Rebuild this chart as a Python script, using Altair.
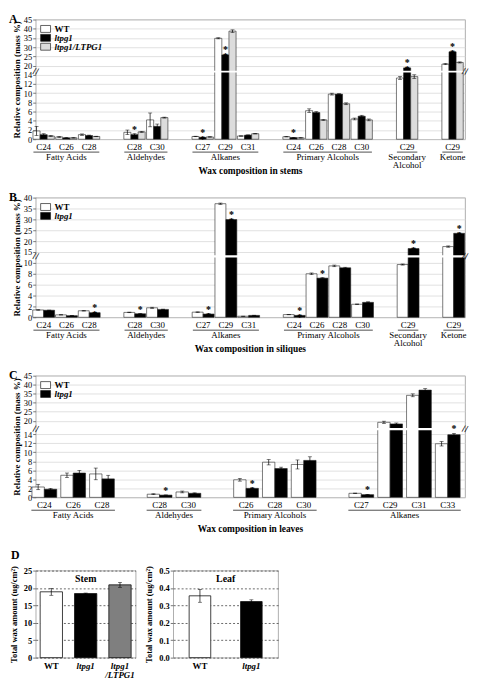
import altair as alt
import pandas as pd

FONT = "Liberation Serif"

# ---------------- data ----------------
SERIES3 = ["WT", "ltpg1", "ltpg1/LTPG1"]
SERIES2 = ["WT", "ltpg1"]
FILL_ABC = ["#ffffff", "#000000", "#dcdcdc"]
FILL_D = ["#ffffff", "#000000", "#7f7f7f"]

# Panel A - stems
A_chain = ["C24", "C26", "C28", "C28", "C30", "C27", "C29", "C31", "C24", "C26", "C28", "C30", "C29", "C29"]
A_class = ["Fatty Acids"] * 3 + ["Aldehydes"] * 2 + ["Alkanes"] * 3 + ["Primary  Alcohols"] * 4 + ["Secondary\nAlcohol", "Ketone"]
A_wt = [1.8, 0.5, 1.0, 1.5, 4.2, 0.6, 34.8, 0.7, 0.55, 6.2, 9.8, 4.4, 13.3, 20.8]
A_wt_err = [1.0, 0.1, 0.15, 0.5, 1.5, 0.05, 0.3, 0.05, 0.05, 0.4, 0.2, 0.2, 0.3, 0.3]
A_lt = [1.0, 0.3, 0.8, 1.0, 2.8, 0.4, 25.8, 0.9, 0.35, 5.8, 9.8, 5.0, 18.5, 27.5]
A_lt_err = [0.2, 0.05, 0.1, 0.2, 0.5, 0.05, 0.3, 0.05, 0.05, 0.2, 0.1, 0.2, 0.3, 0.4]
A_co = [0.7, 0.3, 0.6, 1.6, 4.7, 0.5, 38.7, 1.2, 0.3, 4.2, 7.7, 4.2, 13.6, 21.7]
A_co_err = [0.1, 0.05, 0.05, 0.1, 0.1, 0.05, 0.7, 0.05, 0.05, 0.1, 0.2, 0.2, 0.4, 0.3]
A_sig = ["", "", "", "*", "", "**", "**", "", "*", "", "", "", "**", "**"]
A_ylo = [0, 2, 4, 6, 8, 10, 12, 14]
A_yhi = [20, 25, 30, 35, 40, 45]

# Panel B - siliques
B_chain = A_chain
B_class = A_class
B_wt = [1.35, 0.45, 1.2, 0.9, 1.75, 0.95, 37.2, 0.2, 0.5, 8.0, 9.45, 2.4, 9.7, 17.5]
B_wt_err = [0.05, 0.03, 0.05, 0.05, 0.1, 0.05, 0.3, 0.02, 0.03, 0.15, 0.15, 0.05, 0.1, 0.3]
B_lt = [1.3, 0.3, 0.85, 0.65, 1.45, 0.6, 29.9, 0.35, 0.35, 7.2, 9.1, 2.75, 16.6, 23.6]
B_lt_err = [0.03, 0.02, 0.05, 0.05, 0.05, 0.05, 0.2, 0.03, 0.05, 0.1, 0.1, 0.1, 0.2, 0.2]
B_sig = ["", "", "**", "*", "", "**", "**", "", "**", "*", "", "", "**", "**"]
B_ylo = [0, 2, 4, 6, 8, 10]
B_yhi = [15, 20, 25, 30, 35, 40]

# Panel C - leaves
C_chain = ["C24", "C26", "C28", "C28", "C30", "C26", "C28", "C30", "C27", "C29", "C31", "C33"]
C_class = ["Fatty Acids"] * 3 + ["Aldehydes"] * 2 + ["Primary  Alcohols"] * 3 + ["Alkanes"] * 4
C_wt = [2.3, 4.9, 5.2, 0.7, 1.2, 3.9, 7.8, 7.3, 0.9, 19.3, 34.1, 11.9]
C_wt_err = [0.6, 0.5, 1.3, 0.1, 0.2, 0.3, 0.6, 1.0, 0.05, 0.5, 0.8, 0.5]
C_lt = [1.8, 5.4, 4.1, 0.5, 0.9, 2.0, 6.4, 8.2, 0.6, 18.6, 37.0, 13.9]
C_lt_err = [0.2, 0.6, 0.8, 0.05, 0.1, 0.1, 0.3, 0.8, 0.05, 0.4, 0.8, 0.5]
C_sig = ["", "", "", "*", "", "**", "", "", "*", "", "", "*"]
C_ylo = A_ylo
C_yhi = A_yhi

# Panel D - total wax
D_stem_geno = SERIES3
D_stem = [18.9, 18.4, 20.9]
D_stem_err = [1.0, 0.15, 0.7]
D_stem_ticks = [0, 5, 10, 15, 20, 25]
D_leaf_geno = SERIES2
D_leaf = [0.355, 0.322]
D_leaf_err = [0.037, 0.01]
D_leaf_ticks = [0.0, 0.1, 0.2, 0.3, 0.4, 0.5]

YTITLE = "Relative composition (mass %)"


# ---------------- helpers ----------------
def slots_for(classes):
    out, s, prev = [], 0, None
    for c in classes:
        if prev is not None:
            s += 1 if c == prev else 2
        out.append(s)
        prev = c
    return out


def make_pos(ylo, yhi, g):
    lm, ls, um = ylo[-1], ylo[1] - ylo[0], yhi[0]
    b = lm / ls

    def py(v):
        if v <= lm:
            return v / ls
        if v < um:
            return b + (v - lm) / (um - lm) * g
        return b + g + (v - um) / 5

    def ex(f):
        return (f"(({f}) <= {lm} ? ({f}) / {ls} : (({f}) < {um} ? {b} + (({f}) - {lm}) / {um - lm} * {g} "
                f": {b + g} + (({f}) - {um}) / 5))")
    return py, ex


def broken_panel(letter, chains, classes, series, fills, vals, errs, sig, ylo, yhi, g,
                 band, brk, W, H, xdom, pad, title):
    py, ex = make_pos(ylo, yhi, g)
    sl = slots_for(classes)
    n = len(series)
    bw = (1 - 2 * pad) / n
    rows = []
    for si, (s, vv, ee) in enumerate(zip(series, vals, errs)):
        for j in range(len(chains)):
            sg = sig[j] if s == "ltpg1" else ""
            rows.append(dict(slot=sl[j], chain=chains[j], cls=classes[j], series=s, sidx=si,
                             v=vv[j], e=ee[j], sig=sg, star="*\n*" if sg == "**" else sg))
    df = pd.DataFrame(rows)

    tick_vals = [py(t) for t in ylo + yhi]
    tick_lbls = [str(t) for t in ylo + yhi]
    lookup = "{" + ",".join(f"'{p:g}':'{l}'" for p, l in zip(tick_vals, tick_lbls)) + "}"
    top = py(yhi[-1])

    xs = alt.Scale(domain=xdom, nice=False, zero=False)
    ys = alt.Scale(domain=[0, top], nice=False, zero=False)
    yax = alt.Axis(values=tick_vals, labelExpr=f"{lookup}[toString(datum.value)]", title=YTITLE,
                   grid=True, gridColor="#d4d4d4", gridWidth=0.7, domain=False, tickSize=3,
                   tickColor="#777", labelFontSize=8.5, labelPadding=1, titleFontSize=9,
                   titleFontWeight="bold", titlePadding=2)

    def X(f):
        return alt.X(f, type="quantitative", scale=xs, axis=None)

    def Y(f):
        return alt.Y(f, type="quantitative", scale=ys, axis=yax)

    base = alt.Chart(df).transform_calculate(
        p=ex("datum.v"),
        ptop=ex("datum.v + datum.e"),
        pbot=ex("max(datum.v - datum.e, 0)"),
        x0=f"datum.slot - 0.5 + {pad} + datum.sidx * {bw}",
    ).transform_calculate(x1=f"datum.x0 + {bw}", xc=f"datum.x0 + {bw / 2}")

    bars = base.mark_rect(stroke="#222", strokeWidth=0.6).encode(
        x=X("x0"), x2="x1", y=Y("p"), y2=alt.datum(0),
        fill=alt.Fill("series:N", scale=alt.Scale(domain=series, range=fills), legend=None))
    err = base.mark_rule(color="#000", strokeWidth=0.7).encode(x=X("xc"), y=Y("pbot"), y2="ptop")
    cap_t = base.mark_tick(orient="horizontal", size=4, thickness=0.7, color="#000").encode(x=X("xc"), y=Y("ptop"))
    cap_b = base.mark_tick(orient="horizontal", size=4, thickness=0.7, color="#000").encode(x=X("xc"), y=Y("pbot"))
    stars = base.transform_filter("datum.sig != ''").mark_text(
        baseline="bottom", dy=1, lineBreak="\n", lineHeight=7, fontSize=10, fontWeight="bold").encode(
        x=X("xc"), y=Y("ptop"), text="star:N")

    one = pd.DataFrame({"k": [0]})
    gap = alt.Chart(one).mark_rect(fill="white").encode(
        x=alt.value(0.6), x2=alt.value(W - 0.6),
        y=alt.YDatum(band[0], type="quantitative", scale=ys, axis=yax), y2=alt.datum(band[1]))
    brk_l = alt.Chart(one).mark_text(text="//", fontSize=10, fontWeight="bold", angle=10).encode(
        x=alt.value(0), y=alt.YDatum(brk, type="quantitative", scale=ys, axis=yax))
    brk_r = alt.Chart(one).mark_text(text="//", fontSize=10, fontWeight="bold", angle=10).encode(
        x=alt.value(W), y=alt.YDatum(brk, type="quantitative", scale=ys, axis=yax))

    cat_df = pd.DataFrame({"slot": sl, "chain": chains})
    cats = alt.Chart(cat_df).mark_text(fontSize=9, baseline="middle").encode(
        x=X("slot"), y=alt.value(H + 8), text="chain:N")

    grp = {}
    for s_, c_ in zip(sl, classes):
        grp.setdefault(c_, []).append(s_)
    grp_df = pd.DataFrame({"cls": list(grp.keys()),
                           "lo": [min(v) - 0.45 for v in grp.values()],
                           "hi": [max(v) + 0.45 for v in grp.values()],
                           "mid": [(min(v) + max(v)) / 2 for v in grp.values()]})
    under = alt.Chart(grp_df).mark_rule(color="#222", strokeWidth=0.8).encode(
        x=X("lo"), x2="hi", y=alt.value(H + 13))
    glab = alt.Chart(grp_df).mark_text(fontSize=9, baseline="top", lineBreak="\n", lineHeight=9).encode(
        x=X("mid"), y=alt.value(H + 13.5), text="cls:N")
    xt = alt.Chart(one).mark_text(text=title, fontSize=9.5, fontWeight="bold", baseline="middle").encode(
        x=alt.value(W / 2), y=alt.value(H + 32))
    let = alt.Chart(one).mark_text(text=letter, fontSize=12, fontWeight="bold", align="left",
                                   baseline="alphabetic").encode(x=alt.value(-27), y=alt.value(3))

    leg = []
    for i, s in enumerate(series):
        leg.append(alt.Chart(one).mark_rect(fill=fills[i], stroke="#222", strokeWidth=0.7).encode(
            x=alt.value(5), x2=alt.value(15), y=alt.value(6 + 9 * i), y2=alt.value(13 + 9 * i)))
        leg.append(alt.Chart(one).mark_text(text=s, fontSize=9, fontWeight="bold", align="left",
                                            baseline="middle",
                                            fontStyle="normal" if s == "WT" else "italic").encode(
            x=alt.value(19), y=alt.value(9.5 + 9 * i)))

    return alt.layer(bars, err, cap_t, cap_b, gap, stars, brk_l, brk_r, cats, under, glab, xt, let,
                     *leg).properties(width=W, height=H)


def d_panel(geno, vals, errs, fills, ticks, fmt, W, H, label, pin, pout, title_x, letter=None):
    df = pd.DataFrame({"g": geno, "v": vals, "e": errs})
    df["lo"] = df["v"] - df["e"]
    df["hi"] = df["v"] + df["e"]
    xs = alt.Scale(domain=geno, paddingInner=pin, paddingOuter=pout)
    ys = alt.Scale(domain=[ticks[0], ticks[-1]], nice=False)
    xax = alt.Axis(title=None, labelAngle=0, ticks=False, domain=False, labelFontWeight="bold",
                   labelFontSize=9, labelPadding=4, labelLineHeight=9,
                   labelExpr="datum.value == 'ltpg1/LTPG1' ? ['ltpg1', '/LTPG1'] : datum.value",
                   labelFontStyle={"condition": {"test": "datum.value == 'WT'", "value": "normal"},
                                   "value": "italic"})
    yax = alt.Axis(values=ticks, format=fmt, title="Total wax amount (ug/cm²)", grid=True,
                   gridDash=[2, 2], gridColor="#444", gridWidth=0.8, domain=False, tickSize=3,
                   tickColor="#777", labelFontSize=8.5, labelFontWeight="bold", labelPadding=1,
                   titleFontSize=8.5, titleFontWeight="bold", titleX=title_x, titleY=H / 2)
    X = alt.X("g:N", scale=xs, axis=xax, sort=geno)
    base = alt.Chart(df)
    bars = base.mark_bar(stroke="#111", strokeWidth=0.8).encode(
        x=X, y=alt.Y("v:Q", scale=ys, axis=yax),
        fill=alt.Fill("g:N", scale=alt.Scale(domain=geno, range=fills[:len(geno)]), legend=None))
    err = base.mark_rule(color="#000", strokeWidth=0.7).encode(
        x=X, y=alt.Y("lo:Q", scale=ys, axis=yax), y2="hi:Q")
    ct = base.mark_tick(orient="horizontal", size=4, thickness=0.7, color="#000").encode(
        x=X, y=alt.Y("hi:Q", scale=ys, axis=yax))
    cb = base.mark_tick(orient="horizontal", size=4, thickness=0.7, color="#000").encode(
        x=X, y=alt.Y("lo:Q", scale=ys, axis=yax))
    one = pd.DataFrame({"k": [0]})
    lab = alt.Chart(one).mark_text(text=label, fontSize=10, fontWeight="bold", baseline="middle").encode(
        x=alt.value(W / 2), y=alt.value(9))
    layers = [bars, err, ct, cb, lab]
    if letter:
        layers.append(alt.Chart(one).mark_text(text=letter, fontSize=12, fontWeight="bold", align="left",
                                               baseline="alphabetic").encode(x=alt.value(-25), y=alt.value(-12)))
    return alt.layer(*layers).properties(width=W, height=H)


W = 434
A = broken_panel("A", A_chain, A_class, SERIES3, FILL_ABC, [A_wt, A_lt, A_co], [A_wt_err, A_lt_err, A_co_err],
                 A_sig, A_ylo, A_yhi, 1.0, (7.25, 7.45), 7.35, W, 121, [-0.35, 18.55], 0.03,
                 "Wax composition in stems")
B = broken_panel("B", B_chain, B_class, SERIES2, FILL_ABC, [B_wt, B_lt], [B_wt_err, B_lt_err],
                 B_sig, B_ylo, B_yhi, 1.0, (5.5, 5.7), 5.6, W, 121, [-0.35, 18.5], 0.02,
                 "Wax composition in siliques")
C = broken_panel("C", C_chain, C_class, SERIES2, FILL_ABC, [C_wt, C_lt], [C_wt_err, C_lt_err],
                 C_sig, C_ylo, C_yhi, 1.5, (7.45, 7.7), 7.57, W, 123, [-0.3, 14.6], 0.07,
                 "Wax composition in leaves")
Ds = d_panel(D_stem_geno, D_stem, D_stem_err, FILL_D, D_stem_ticks, "d", 101, 88, "Stem", 0.35, 0.13, -17,
             letter="D")
Dl = d_panel(D_leaf_geno, D_leaf, D_leaf_err, FILL_D, D_leaf_ticks, ".1f", 106, 88, "Leaf", 0.58, 0.31, -20)

D = alt.hconcat(Ds, Dl, spacing=7).resolve_scale(fill="independent")
chart = alt.vconcat(A, B, C, D, spacing=14).resolve_scale(fill="independent").configure(
    font=FONT, padding=0
).configure_view(stroke="#9a9a9a", strokeWidth=0.8).configure_axis(labelColor="#000", titleColor="#000")

chart.save("out.html", embed_options={"renderer": "svg", "actions": False})
